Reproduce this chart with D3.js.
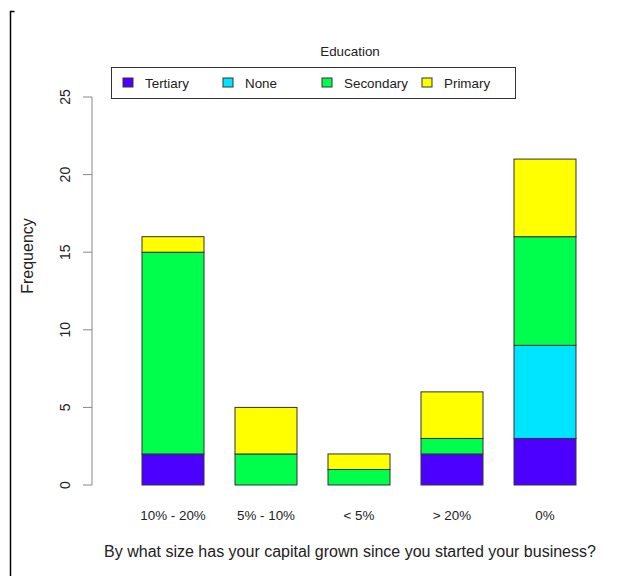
<!DOCTYPE html>
<html>
<head>
<meta charset="utf-8">
<script src="https://cdn.jsdelivr.net/npm/d3@7"></script>
<style>
  body { margin: 0; background: #fff; }
  text { font-family: "Liberation Sans", Arial, sans-serif; fill: #222; }
</style>
</head>
<body>
<svg id="chart" width="636" height="576"></svg>
<script>
// answers to the question, left to right
let categories = ["10% - 20%", "5% - 10%", "< 5%", "> 20%", "0%"];
// stacked bottom to top
let levels = ["Tertiary", "None", "Secondary", "Primary"];
let tertiary  = [2, 0, 0, 2, 3];
let none      = [0, 0, 0, 0, 6];
let secondary = [13, 2, 1, 1, 7];
let primary   = [1, 3, 1, 3, 5];
let yTicks = [0, 5, 10, 15, 20, 25];
let colors = ["#4C00FF", "#00E5FF", "#00FF4D", "#FFFF00"];

let rows = categories.map(function(c, i) {
	return {cat: c, Tertiary: tertiary[i], None: none[i], Secondary: secondary[i], Primary: primary[i]};
});

let svg = d3.select("#chart");

let xscale = d3.scaleBand()
	.domain(categories)
	.range([142, 576])
	.paddingInner(1 / 3)
	.paddingOuter(0);

let yscale = d3.scaleLinear()
	.domain([0, 25])
	.range([485, 97]);

let color = d3.scaleOrdinal().domain(levels).range(colors);

// frame line on the left edge
svg.append("path")
	.attr("d", "M14.5,11.5 H10.5 V576")
	.attr("fill", "none")
	.attr("stroke", "#000")
	.attr("stroke-width", 1.5);

// stacked bars
let stacked = d3.stack().keys(levels)(rows);

svg.append("g")
	.selectAll("g")
	.data(stacked)
	.enter()
	.append("g")
	.attr("fill", d => color(d.key))
	.selectAll("rect")
	.data(d => d.filter(s => s[1] - s[0] > 0))
	.enter()
	.append("rect")
	.attr("x", d => xscale(d.data.cat))
	.attr("y", d => yscale(d[1]))
	.attr("width", xscale.bandwidth())
	.attr("height", d => yscale(d[0]) - yscale(d[1]))
	.attr("stroke", "#333")
	.attr("stroke-width", 1);

// y axis
let yAxis = svg.append("g").attr("transform", "translate(92,0)");
yAxis.append("line")
	.attr("x1", 0).attr("x2", 0)
	.attr("y1", yscale(0)).attr("y2", yscale(25))
	.attr("stroke", "#888");
yAxis.selectAll("line.tick")
	.data(yTicks)
	.enter()
	.append("line")
	.attr("class", "tick")
	.attr("x1", -9).attr("x2", 0)
	.attr("y1", d => yscale(d)).attr("y2", d => yscale(d))
	.attr("stroke", "#888");
yAxis.selectAll("text")
	.data(yTicks)
	.enter()
	.append("text")
	.attr("transform", d => "translate(-22," + yscale(d) + ") rotate(-90)")
	.attr("text-anchor", "middle")
	.style("font-size", "14px")
	.text(d => d);

// category labels
svg.append("g")
	.selectAll("text")
	.data(categories)
	.enter()
	.append("text")
	.attr("x", d => xscale(d) + xscale.bandwidth() / 2)
	.attr("y", 520)
	.attr("text-anchor", "middle")
	.style("font-size", "13.4px")
	.text(d => d);

// axis titles
svg.append("text")
	.attr("transform", "translate(33,256) rotate(-90)")
	.attr("text-anchor", "middle")
	.style("font-size", "16px")
	.text("Frequency");

svg.append("text")
	.attr("x", 350)
	.attr("y", 557)
	.attr("text-anchor", "middle")
	.style("font-size", "16px")
	.text("By what size has your capital grown since you started your business?");

// legend
svg.append("text")
	.attr("x", 350)
	.attr("y", 56)
	.attr("text-anchor", "middle")
	.style("font-size", "13.4px")
	.text("Education");

svg.append("rect")
	.attr("x", 111.5).attr("y", 67.5)
	.attr("width", 404).attr("height", 31)
	.attr("fill", "none")
	.attr("stroke", "#333");

let legendX = [123, 223, 322, 422];
let item = svg.append("g")
	.selectAll("g")
	.data(levels)
	.enter()
	.append("g")
	.attr("transform", (d, i) => "translate(" + legendX[i] + ",78)");
item.append("rect")
	.attr("width", 10).attr("height", 9)
	.attr("fill", d => color(d))
	.attr("stroke", "#333");
item.append("text")
	.attr("x", 22)
	.attr("y", 10)
	.style("font-size", "13.4px")
	.text(d => d);
</script>
</body>
</html>
